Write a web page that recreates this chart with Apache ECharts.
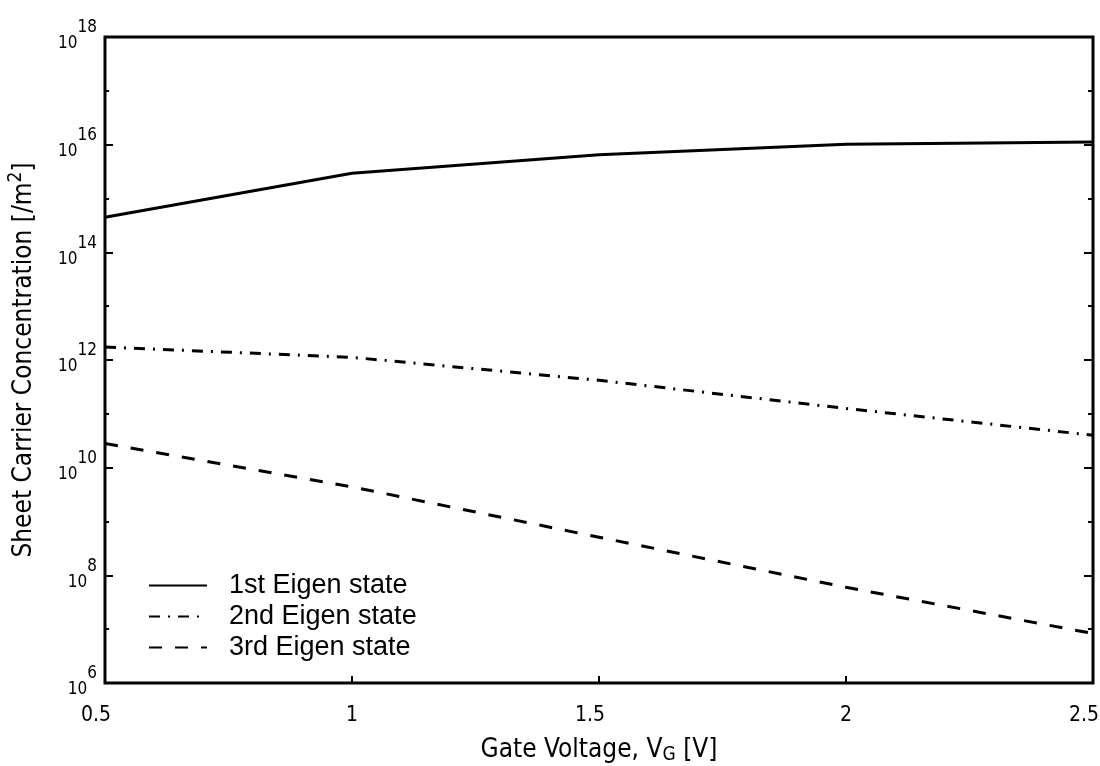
<!DOCTYPE html>
<html>
<head>
<meta charset="utf-8">
<script src="https://cdn.jsdelivr.net/npm/echarts@6/dist/echarts.min.js"></script>
<style>
  html, body { margin: 0; padding: 0; background: #fff; }
  #main { width: 1100px; height: 766px; }
</style>
</head>
<body>
<div id="main"></div>
<script>
// gate voltage [V]
var gateVoltage = [0.5, 1.0, 1.5, 2.0, 2.5];
// sheet carrier concentration [/m^2]
var firstState = [4.5e14, 2.95e15, 6.5e15, 1.02e16, 1.12e16];
var secondState = [1.74e12, 1.12e12, 4.2e11, 1.26e11, 4.0e10];
var thirdState = [2.8e10, 4.4e9, 5.1e8, 6.0e7, 8.3e6];
var seriesNames = ['1st Eigen state', '2nd Eigen state', '3rd Eigen state'];

var FONT = "'Liberation Sans Narrow', 'DejaVu Sans Condensed', 'Roboto Condensed', 'Liberation Sans', Arial, sans-serif";

function pairs(ys) {
  return gateVoltage.map(function (x, i) { return [x, ys[i]]; });
}

function tickAxis(pos, interval, len) {
  return {
    type: 'log',
    logBase: 10,
    min: 1e6,
    max: 1e18,
    interval: interval,
    position: pos,
    axisLine: { show: false },
    splitLine: { show: false },
    axisTick: { show: true, inside: true, length: len, lineStyle: { color: '#000', width: 2 } },
    axisLabel: { show: false }
  };
}

var chart = echarts.init(document.getElementById('main'));

var yMain = tickAxis('left', 2, 8);
yMain.axisLabel = {
  show: true,
  margin: 8,
  formatter: function (v) {
    return '{b|10}{e|' + Math.round(Math.log10(v)) + '}';
  },
  rich: {
    b: { fontFamily: FONT, fontSize: 17, color: '#000', padding: [14, 0, 0, 0] },
    e: { fontFamily: FONT, fontSize: 17, color: '#000', padding: [0, 0, 18, 0] }
  }
};
yMain.name = 'Sheet Carrier Concentration [/m{s|2}]';
yMain.nameLocation = 'middle';
yMain.nameGap = 64;
yMain.nameTextStyle = {
  fontFamily: FONT, fontSize: 26, color: '#000',
  rich: { s: { fontFamily: FONT, fontSize: 19, color: '#000', padding: [0, 0, 15, 0] } }
};

var option = {
  backgroundColor: '#fff',
  animation: false,
  grid: {
    left: 105, right: 7, top: 37, bottom: 83,
    outerBoundsMode: 'none',
    show: true, borderColor: '#000', borderWidth: 3
  },
  legend: {
    orient: 'vertical',
    left: 148,
    top: 572,
    padding: 0,
    itemWidth: 58,
    itemHeight: 20,
    itemGap: 4,
    itemStyle: { opacity: 0 },
    textStyle: { fontFamily: "'Liberation Sans', Arial, sans-serif", fontSize: 27, lineHeight: 22, color: '#000', padding: [0, 0, 0, 17] },
    data: seriesNames
  },
  xAxis: {
    type: 'value',
    min: 0.5,
    max: 2.5,
    interval: 0.5,
    name: 'Gate Voltage, V{sub|G} [V]',
    nameLocation: 'middle',
    nameGap: 52,
    nameTextStyle: {
      fontFamily: FONT, fontSize: 26, color: '#000',
      rich: { sub: { fontFamily: FONT, fontSize: 19, color: '#000', padding: [11, 0, 0, 0] } }
    },
    axisLine: { show: false },
    splitLine: { show: false },
    axisTick: { inside: true, length: 7, lineStyle: { color: '#000', width: 2 } },
    axisLabel: {
      fontFamily: FONT, fontSize: 21, color: '#000', margin: 22,
      formatter: function (v) {
        return v % 1 === 0 ? '{i|' + v + '}' : '{d|' + v + '}';
      },
      rich: {
        i: { fontFamily: FONT, fontSize: 21, color: '#000' },
        d: { fontFamily: FONT, fontSize: 21, color: '#000', padding: [0, 18, 0, 0] }
      }
    }
  },
  yAxis: [
    yMain,
    tickAxis('left', 1, 4),
    tickAxis('right', 2, 9),
    tickAxis('right', 1, 5)
  ],
  series: [
    {
      name: seriesNames[0], type: 'line', symbol: 'none',
      lineStyle: { color: '#000', width: 3, type: 'solid' },
      itemStyle: { color: '#000' },
      data: pairs(firstState)
    },
    {
      name: seriesNames[1], type: 'line', symbol: 'none',
      lineStyle: { color: '#000', width: 3, type: [11, 8, 2, 8] },
      itemStyle: { color: '#000' },
      data: pairs(secondState)
    },
    {
      name: seriesNames[2], type: 'line', symbol: 'none',
      lineStyle: { color: '#000', width: 3, type: [13, 13] },
      itemStyle: { color: '#000' },
      data: pairs(thirdState)
    }
  ]
};

chart.setOption(option);
</script>
</body>
</html>
